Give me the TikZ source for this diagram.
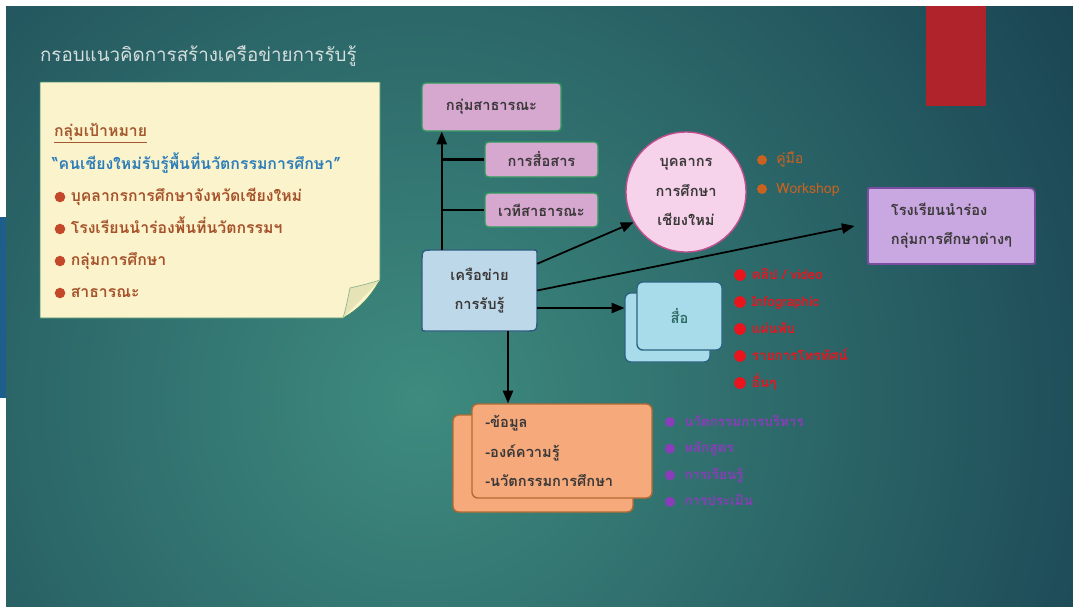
\documentclass[tikz,border=0pt]{standalone}
\usepackage{fontspec}
\setmainfont{Loma}[Script=Thai]
\usetikzlibrary{arrows}
\definecolor{bgin}{HTML}{3E8B7F}
\definecolor{bgout}{HTML}{153A4D}
\definecolor{redbar}{HTML}{B1232B}
\definecolor{sidebar}{HTML}{1E5E8A}
\definecolor{notefill}{HTML}{FBF3CC}
\definecolor{noteedge}{HTML}{3F8A6A}
\definecolor{flap}{HTML}{E6E3B6}
\definecolor{notehead}{HTML}{A3582E}
\definecolor{noteblue}{HTML}{2C7DBA}
\definecolor{notetext}{HTML}{A6522A}
\definecolor{notedot}{HTML}{C4482A}
\definecolor{pubfill}{HTML}{D6A7CF}
\definecolor{pubedge}{HTML}{2F9A5C}
\definecolor{netfill}{HTML}{BDD8E9}
\definecolor{netedge}{HTML}{2E5D80}
\definecolor{circfill}{HTML}{F6D3EA}
\definecolor{circedge}{HTML}{C04F8E}
\definecolor{pilotfill}{HTML}{C9A7E0}
\definecolor{pilotedge}{HTML}{7B4DA0}
\definecolor{mediafill}{HTML}{A9DCEB}
\definecolor{mediaedge}{HTML}{2B6480}
\definecolor{mediatext}{HTML}{2F6B66}
\definecolor{infofill}{HTML}{F6AA7B}
\definecolor{infoedge}{HTML}{B26A32}
\definecolor{boxtext}{HTML}{3A3838}
\definecolor{titletext}{HTML}{D6DFDE}
\definecolor{orangelist}{HTML}{C9621F}
\definecolor{redlist}{HTML}{E8141E}
\definecolor{purplelist}{HTML}{8B3CBA}
\tikzset{
bul/.style={circle, fill=#1, inner sep=0pt, minimum size=8.5pt},
listtext/.style={anchor=base west, inner sep=0pt, text=#1, font=\bfseries\fontsize{11.5}{14}\selectfont},
notefont/.style={font=\bfseries\fontsize{13.5}{16}\selectfont},
boxfont/.style={text=boxtext, font=\bfseries\fontsize{12.5}{25}\selectfont},
pinkbox/.style={rectangle, rounded corners=3pt, draw=pubedge, line width=1.2pt, fill=pubfill, boxfont},
card/.style={rectangle, rounded corners=5pt, line width=1.2pt},
arr/.style={-triangle 45, line width=1.5pt}
}

\begin{document}
\begin{tikzpicture}[x=0.03cm, y=-0.03cm]
\useasboundingbox (0,0) rectangle (1073,606);
\fill[white] (0,0) rectangle (1073,606);
\fill[sidebar] (0,217) rectangle (6,398);
\begin{scope}
\clip (6,6) rectangle (1073,606);
\shade[inner color=bgin, outer color=bgout] (420,400) circle (880);
\end{scope}
\fill[redbar] (926,6) rectangle (986,106);

\node[anchor=west, text=titletext, font=\fontsize{16}{20}\selectfont] (title) at (36,56) {กรอบแนวคิดการสร้างเครือข่ายการรับรู้};

% note
\filldraw[fill=notefill, draw=noteedge, line width=0.8pt] (40,82) -- (380,82) -- (380,280) .. controls (370,298) and (358,310) .. (343,318) -- (40,318) -- cycle;
\filldraw[fill=flap, draw=noteedge!50!flap, line width=0.6pt] (380,280) .. controls (368,284) and (358,286) .. (350,288) .. controls (348,298) and (346,308) .. (343,318);
\node[anchor=west, text=notehead, notefont] (goal) at (50,133) {\underline{กลุ่มเป้าหมาย}};
\node[anchor=west, text=noteblue, notefont] (slogan) at (48,163) {“คนเชียงใหม่รับรู้พื้นที่นวัตกรรมการศึกษา”};
\foreach \t [count=\i] in {บุคลากรการศึกษาจังหวัดเชียงใหม่, โรงเรียนนำร่องพื้นที่นวัตกรรมฯ, กลุ่มการศึกษา, สาธารณะ}
{
\node[bul=notedot, minimum size=9pt] (nd\i) at (60,{165+32*\i}) {};
\node[listtext=notetext, notefont] (nt\i) at ([xshift=9pt,yshift=-4pt]nd\i.center) {\t};
}

% public
\node[pinkbox, minimum width=4.17cm, minimum height=1.44cm] (pub) at (491.5,107) {กลุ่มสาธารณะ};
\node[pinkbox, minimum width=3.39cm, minimum height=1.05cm] (comm) at (541.5,159.5) {การสื่อสาร};
\node[pinkbox, minimum width=3.39cm, minimum height=1.02cm] (forum) at (541.5,210) {เวทีสาธารณะ};

% network
\filldraw[fill=netfill, draw=netedge, line width=1.2pt] (434,250) -- (534,250) .. controls (537,250) .. (537,253) -- (537,319) .. controls (537,331) .. (525,331) -- (425,331) .. controls (422,331) .. (422,328) -- (422,262) .. controls (422,250) .. (434,250) -- cycle;
\node[boxfont, minimum width=3.45cm, minimum height=2.43cm, align=center] (net) at (479.5,290.5) {เครือข่าย\\การรับรู้};

% staff
\node[circle, draw=circedge, fill=circfill, line width=1.2pt, minimum size=3.6cm, align=center, boxfont] (circ) at (686,192) {บุคลากร\\การศึกษา\\เชียงใหม่};
\node[bul=orangelist] (od1) at (762,160) {};
\node[listtext=orangelist, font=\fontsize{12}{14}\selectfont] (ot1) at ([xshift=12pt,yshift=-3pt]od1.center) {คู่มือ};
\node[bul=orangelist] (od2) at (762,189) {};
\node[listtext=orangelist, font=\fontsize{12}{14}\selectfont] (ot2) at ([xshift=12pt,yshift=-4pt]od2.center) {Workshop};

% pilot schools
\filldraw[fill=pilotfill, draw=pilotedge, line width=1.5pt] (871,188) -- (1023,188) .. controls (1035,188) .. (1035,200) -- (1035,261) .. controls (1035,264) .. (1032,264) -- (871,264) .. controls (868,264) .. (868,261) -- (868,191) .. controls (868,188) .. (871,188) -- cycle;
\node[boxfont, minimum width=5.01cm, minimum height=2.28cm, align=left] (pilot) at (951.5,226) {โรงเรียนนำร่อง\\กลุ่มการศึกษาต่างๆ};

% media
\node[card, draw=mediaedge, fill=mediafill, minimum width=2.55cm, minimum height=2.07cm] (mediab) at (667.5,327.5) {};
\node[card, draw=mediaedge, fill=mediafill, minimum width=2.55cm, minimum height=2.04cm, boxfont, text=mediatext] (media) at (679.5,316) {สื่อ};
\foreach \t [count=\i] in {คลิป / video, Infographic, แผ่นพับ, รายการโทรทัศน์, อื่นๆ}
{
\node[bul=redlist, minimum size=10pt] (rd\i) at (740,{248+27*\i}) {};
\node[listtext=redlist] (rt\i) at ([xshift=10pt,yshift=-3.5pt]rd\i.center) {\t};
}

% knowledge
\node[card, draw=infoedge, fill=infofill, minimum width=5.4cm, minimum height=2.91cm] (infob) at (543,463.5) {};
\node[card, draw=infoedge, fill=infofill, minimum width=5.4cm, minimum height=2.82cm, text width=4.6cm, align=left, boxfont] (info) at (562,451) {-ข้อมูล\\-องค์ความรู้\\-นวัตกรรมการศึกษา};
\foreach \t [count=\i] in {นวัตกรรมการบริหาร, หลักสูตร, การเรียนรู้, การประเมิน}
{
\node[bul=purplelist] (pd\i) at (670,{395.4+26.6*\i}) {};
\node[listtext=purplelist] (pt\i) at ([xshift=12pt,yshift=-3.5pt]pd\i.center) {\t};
}

% links
\coordinate (trunk) at ([xshift=0.6cm]net.north west);
\draw[arr] (trunk) -- (trunk |- pub.south);
\draw[line width=1.8pt] (comm.west) -- (comm.west -| trunk);
\draw[line width=1.8pt] (forum.west) -- (forum.west -| trunk);
\draw[arr] ([yshift=-0.42cm]net.north east) -- (circ.210);
\draw[arr] (net.east) -- ([xshift=-0.4cm]pilot.west);
\draw[arr] ([yshift=-0.525cm]net.east) -- ([yshift=-0.525cm]net.east -| mediab.west);
\draw[arr] ([xshift=0.855cm]net.south) -- ([xshift=0.855cm]net.south |- info.north);
\end{tikzpicture}
\end{document}
